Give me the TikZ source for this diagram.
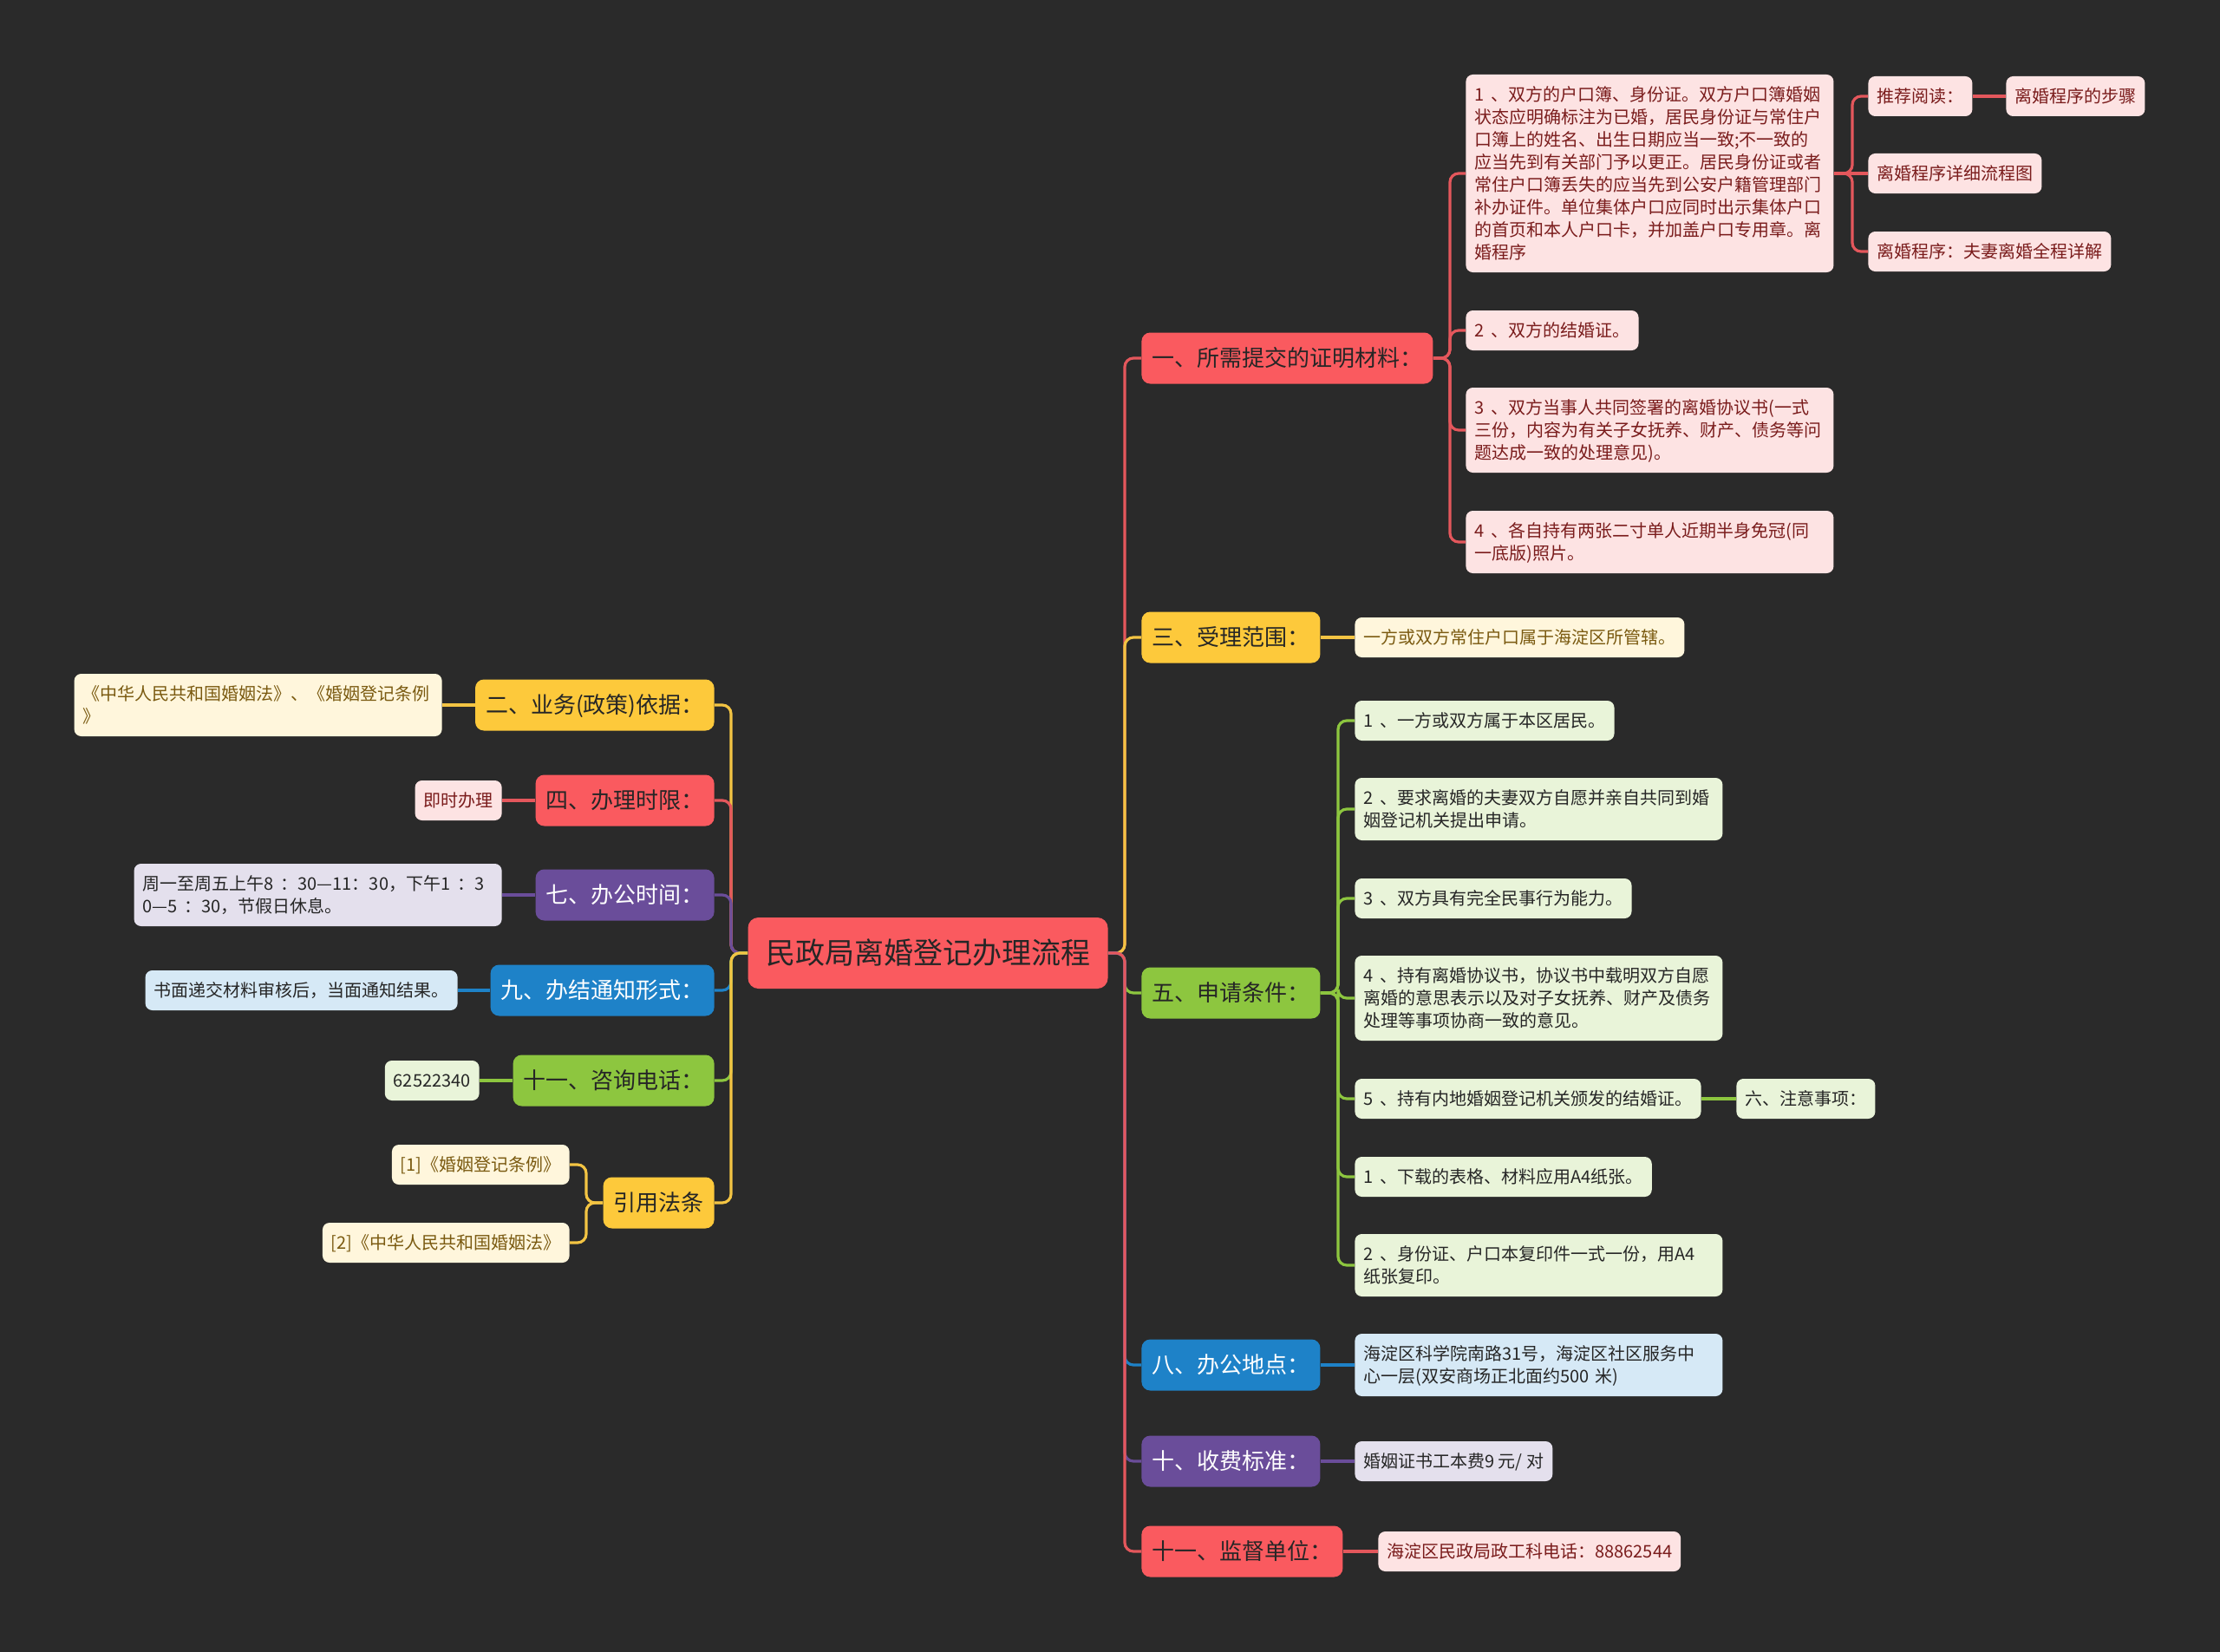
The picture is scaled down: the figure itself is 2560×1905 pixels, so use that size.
\documentclass[tikz,border=0pt]{standalone}
\usepackage{fontspec}
\setmainfont{Noto Sans CJK SC}
\usetikzlibrary{calc}
\definecolor{bg}{HTML}{2A2A2A}
\definecolor{cred}{HTML}{FA5A5F}
\definecolor{cyel}{HTML}{FDC93B}
\definecolor{cgrn}{HTML}{8DC63F}
\definecolor{cblu}{HTML}{1E82C8}
\definecolor{cpur}{HTML}{6A4D9A}
\definecolor{kred}{HTML}{E4575C}
\definecolor{kyel}{HTML}{F3C443}
\definecolor{lred}{HTML}{FDE3E3}
\definecolor{lyel}{HTML}{FFF6DC}
\definecolor{lgrn}{HTML}{E9F4D9}
\definecolor{lblu}{HTML}{D6E9F6}
\definecolor{lpur}{HTML}{E4E0ED}
\definecolor{tred}{HTML}{7A1C1C}
\definecolor{tyel}{HTML}{7A5A10}
\definecolor{tdark}{HTML}{262626}
\newcommand{\mystrut}[2]{\rule[-#2]{0pt}{\dimexpr#1+#2\relax}}
\newcommand{\nsp}{\hspace{0.4em}}
\tikzset{
  boxbase/.style={rounded corners=4pt, align=left},
  rootbox/.style={boxbase, rounded corners=6pt, fill=cred, text=tdark,
    font=\fontsize{17}{21}\selectfont, inner xsep=10.25pt, inner ysep=10pt,
    execute at begin node=\mystrut{16.95pt}{4.05pt},
    execute at end node=\mystrut{16.95pt}{4.05pt}},
  lone/.style={boxbase, rounded corners=5pt,
    font=\fontsize{13}{16}\selectfont, inner xsep=6pt, inner ysep=6.75pt,
    execute at begin node=\mystrut{12.95pt}{3.05pt},
    execute at end node=\mystrut{12.95pt}{3.05pt}},
  leaf/.style={boxbase, font=\fontsize{10}{13}\selectfont, inner xsep=5pt, inner ysep=5pt,
    execute at begin node=\mystrut{10.3pt}{2.7pt},
    execute at end node=\mystrut{10.3pt}{2.7pt}},
  wide/.style={text width=202pt},
  redone/.style={lone, fill=cred, text=tdark},
  yelone/.style={lone, fill=cyel, text=tdark},
  grnone/.style={lone, fill=cgrn, text=tdark},
  bluone/.style={lone, fill=cblu, text=white},
  purone/.style={lone, fill=cpur, text=white},
  redleaf/.style={leaf, fill=lred, text=tred},
  yelleaf/.style={leaf, fill=lyel, text=tyel},
  grnleaf/.style={leaf, fill=lgrn, text=tdark},
  bluleaf/.style={leaf, fill=lblu, text=tdark},
  purleaf/.style={leaf, fill=lpur, text=tdark},
  conn/.style={line width=1.6pt, rounded corners=5pt},
}
\begin{document}
\begin{tikzpicture}[x=0.5pt,y=-0.5pt]
\fill[bg] (0,0) rectangle (2560,1905);
\useasboundingbox (0,0) rectangle (2560,1905);

% root
\node[rootbox] (root) at (1070,1099) {民政局离婚登记办理流程};

% right level one
\node[redone, anchor=west] (n1) at (1316,413) {一、所需提交的证明材料：};
\node[yelone, anchor=west] (n3) at (1316,735) {三、受理范围：};
\node[grnone, anchor=west] (n5) at (1316,1145) {五、申请条件：};
\node[bluone, anchor=west] (n8) at (1316,1574) {八、办公地点：};
\node[purone, anchor=west] (n10) at (1316,1685) {十、收费标准：};
\node[redone, anchor=west] (n11) at (1316,1789) {十一、监督单位：};

% left level one
\node[yelone, anchor=east] (m2) at (824,813) {二、业务(政策)依据：};
\node[redone, anchor=east] (m4) at (824,923) {四、办理时限：};
\node[purone, anchor=east] (m7) at (824,1032) {七、办公时间：};
\node[bluone, anchor=east] (m9) at (824,1142) {九、办结通知形式：};
\node[grnone, anchor=east] (m11) at (824,1246) {十一、咨询电话：};
\node[yelone, anchor=east] (mr) at (824,1387) {引用法条};

% leaves of n1
\node[redleaf, wide, anchor=west] (a1) at (1690,200) {1\nsp、双方的户口簿、身份证。双方户口簿婚姻\\状态应明确标注为已婚，居民身份证与常住户\\口簿上的姓名、出生日期应当一致;不一致的\\应当先到有关部门予以更正。居民身份证或者\\常住户口簿丢失的应当先到公安户籍管理部门\\补办证件。单位集体户口应同时出示集体户口\\的首页和本人户口卡，并加盖户口专用章。离\\婚程序};
\node[redleaf, anchor=west] (a2) at (1690,381) {2\nsp、双方的结婚证。};
\node[redleaf, wide, anchor=west] (a3) at (1690,496) {3\nsp、双方当事人共同签署的离婚协议书(一式\\三份，内容为有关子女抚养、财产、债务等问\\题达成一致的处理意见)。};
\node[redleaf, wide, anchor=west] (a4) at (1690,625) {4\nsp、各自持有两张二寸单人近期半身免冠(同\\一底版)照片。};

\node[redleaf, anchor=west] (r1) at (2154,111) {推荐阅读：};
\node[redleaf, anchor=west] (r1a) at (2313,111) {离婚程序的步骤};
\node[redleaf, anchor=west] (r2) at (2154,200) {离婚程序详细流程图};
\node[redleaf, anchor=west] (r3) at (2154,290) {离婚程序：夫妻离婚全程详解};

% leaf of n3
\node[yelleaf, anchor=west] (b1) at (1562,735) {一方或双方常住户口属于海淀区所管辖。};

% leaves of n5
\node[grnleaf, anchor=west] (c1) at (1562,831) {1\nsp、一方或双方属于本区居民。};
\node[grnleaf, wide, anchor=west] (c2) at (1562,933) {2\nsp、要求离婚的夫妻双方自愿并亲自共同到婚\\姻登记机关提出申请。};
\node[grnleaf, anchor=west] (c3) at (1562,1036) {3\nsp、双方具有完全民事行为能力。};
\node[grnleaf, wide, anchor=west] (c4) at (1562,1151) {4\nsp、持有离婚协议书，协议书中载明双方自愿\\离婚的意思表示以及对子女抚养、财产及债务\\处理等事项协商一致的意见。};
\node[grnleaf, anchor=west] (c5) at (1562,1267) {5\nsp、持有内地婚姻登记机关颁发的结婚证。};
\node[grnleaf, anchor=west] (c5a) at (2002,1267) {六、注意事项：};
\node[grnleaf, anchor=west] (c6) at (1562,1357) {1\nsp、下载的表格、材料应用A4纸张。};
\node[grnleaf, wide, anchor=west] (c7) at (1562,1459) {2\nsp、身份证、户口本复印件一式一份，用A4\\纸张复印。};

% leaves of n8, n10, n11
\node[bluleaf, wide, anchor=west] (d1) at (1562,1574) {海淀区科学院南路31号，海淀区社区服务中\\心一层(双安商场正北面约500 米)};
\node[purleaf, anchor=west] (e1) at (1562,1685) {婚姻证书工本费9 元/ 对};
\node[redleaf, anchor=west] (f1) at (1589,1789) {海淀区民政局政工科电话：88862544};

% left leaves
\node[yelleaf, wide, anchor=east] (g1) at (510,813) {《中华人民共和国婚姻法》、《婚姻登记条例\\》};
\node[redleaf, anchor=east] (h1) at (579,923) {即时办理};
\node[purleaf, wide, anchor=east] (i1) at (579,1032) {周一至周五上午8\nsp：30—11：30，下午1\nsp：3\\0—5\nsp：30，节假日休息。};
\node[bluleaf, anchor=east] (j1) at (528,1142) {书面递交材料审核后，当面通知结果。};
\node[grnleaf, anchor=east] (k1) at (553,1246) {62522340};
\node[yelleaf, anchor=east] (q1) at (657,1343) {[1]《婚姻登记条例》};
\node[yelleaf, anchor=east] (q2) at (657,1433) {[2]《中华人民共和国婚姻法》};

% junction coordinates
\coordinate (RT) at (1297,1099);
\coordinate (LT) at (843,1099);
\coordinate (J1) at (1672,413);
\coordinate (J2) at (2136,200);
\coordinate (J5) at (1543,1145);
\coordinate (JR) at (676,1387);

% right trunk
\draw[conn, kred] (root.east) -- (RT) |- (n1.west);
\draw[conn, kyel] (root.east) -- (RT) |- (n3.west);
\draw[conn, cgrn] (root.east) -- (RT) |- (n5.west);
\draw[conn, cblu] (root.east) -- (RT) |- (n8.west);
\draw[conn, cpur] (root.east) -- (RT) |- (n10.west);
\draw[conn, kred] (root.east) -- (RT) |- (n11.west);

% left trunk
\draw[conn, kyel] (root.west) -- (LT) |- (m2.east);
\draw[conn, kred] (root.west) -- (LT) |- (m4.east);
\draw[conn, cpur] (root.west) -- (LT) |- (m7.east);
\draw[conn, cblu] (root.west) -- (LT) |- (m9.east);
\draw[conn, cgrn] (root.west) -- (LT) |- (m11.east);
\draw[conn, kyel] (root.west) -- (LT) |- (mr.east);

% n1 children
\draw[conn, kred] (n1.east) -- (J1) |- (a1.west);
\draw[conn, kred] (n1.east) -- (J1) |- (a2.west);
\draw[conn, kred] (n1.east) -- (J1) |- (a3.west);
\draw[conn, kred] (n1.east) -- (J1) |- (a4.west);
\draw[conn, kred] (a1.east) -- (J2) |- (r1.west);
\draw[conn, kred] (a1.east) -- (r2.west);
\draw[conn, kred] (a1.east) -- (J2) |- (r3.west);
\draw[conn, kred] (r1.east) -- (r1a.west);

% n3, n8, n10, n11
\draw[conn, kyel] (n3.east) -- (b1.west);
\draw[conn, cblu] (n8.east) -- (d1.west);
\draw[conn, cpur] (n10.east) -- (e1.west);
\draw[conn, kred] (n11.east) -- (f1.west);

% n5 children
\draw[conn, cgrn] (n5.east) -- (J5) |- (c1.west);
\draw[conn, cgrn] (n5.east) -- (J5) |- (c2.west);
\draw[conn, cgrn] (n5.east) -- (J5) |- (c3.west);
\draw[conn, cgrn] (n5.east) -- (J5) |- (c4.west);
\draw[conn, cgrn] (n5.east) -- (J5) |- (c5.west);
\draw[conn, cgrn] (n5.east) -- (J5) |- (c6.west);
\draw[conn, cgrn] (n5.east) -- (J5) |- (c7.west);
\draw[conn, cgrn] (c5.east) -- (c5a.west);

% left leaves
\draw[conn, kyel] (m2.west) -- (g1.east);
\draw[conn, kred] (m4.west) -- (h1.east);
\draw[conn, cpur] (m7.west) -- (i1.east);
\draw[conn, cblu] (m9.west) -- (j1.east);
\draw[conn, cgrn] (m11.west) -- (k1.east);
\draw[conn, kyel] (mr.west) -- (JR) |- (q1.east);
\draw[conn, kyel] (mr.west) -- (JR) |- (q2.east);
\end{tikzpicture}
\end{document}
